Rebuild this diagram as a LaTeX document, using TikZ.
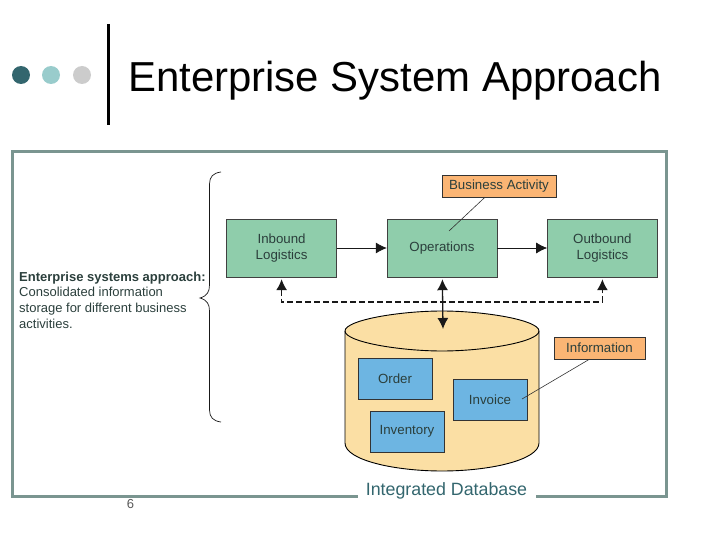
\documentclass[tikz,border=0pt]{standalone}
\usepackage{fontspec}
\setmainfont{Liberation Sans}
\usetikzlibrary{matrix,arrows.meta}

\definecolor{frameC}{HTML}{7A9590}
\definecolor{logiC}{HTML}{8FCDAB}
\definecolor{tagC}{HTML}{FBB574}
\definecolor{dbC}{HTML}{FBDFA4}
\definecolor{tblC}{HTML}{6DB5E2}
\definecolor{inkC}{HTML}{2B3F3C}
\definecolor{tealC}{HTML}{33666E}
\definecolor{paleC}{HTML}{99CCCC}

\begin{document}
\begin{tikzpicture}[x=1pt,y=-1pt,
	logi/.style={draw=black!75,fill=logiC,minimum width=110pt,minimum height=58pt,inner sep=0pt,align=center,font=\fontsize{13.3}{16}\selectfont,text=inkC},
	tag/.style={draw=black!80,fill=tagC,minimum height=22pt,inner sep=0pt,font=\fontsize{13.3}{14}\selectfont,text=inkC},
	tbl/.style={draw=black!80,line width=.8pt,fill=tblC,minimum width=74pt,minimum height=41pt,inner sep=0pt,font=\fontsize{13.3}{14}\selectfont,text=inkC},
	tip/.style={-{Latex[length=11pt,width=11pt]}},
	both/.style={{Latex[length=11pt,width=11pt]}-{Latex[length=11pt,width=11pt]}}]
	\useasboundingbox (0,0) rectangle (720,540);
	% header
	\fill[fill=tealC] (21,75) circle (9);
	\fill[fill=paleC] (51,75) circle (9);
	\fill[fill=black!20] (82,75) circle (9);
	\draw[line width=3pt] (108,24) -- (108,125);
	\node[anchor=west,inner sep=0pt,font=\fontsize{41.9}{44}\selectfont] (title) at (128,81) {Enterprise System Approach};
	% frame
	\draw[frameC,line width=3pt] (12.5,152) rectangle (666.5,496);
	% brace
	\draw[black!90,line width=.7pt] (221,172) .. controls (213,173) and (209.5,177) .. (209.5,184)
		-- (209.5,285) .. controls (209.5,292) and (207,296) .. (200,298)
		.. controls (207,300) and (209.5,304) .. (209.5,311)
		-- (209.5,410) .. controls (209.5,417) and (213,421) .. (221,422);
	\node[anchor=north west,inner sep=0pt,align=left,text=inkC,font=\fontsize{13}{15.8}\selectfont] (note) at (19,271.5)
		{\textbf{Enterprise systems approach:}\\Consolidated information\\storage for different business\\activities.};
	% database
	\draw[black,line width=.9pt,fill=dbC] (345,331) .. controls (345,320) and (400,311) .. (442,311)
		.. controls (484,311) and (539,320) .. (539,331) -- (539,443)
		.. controls (539,460) and (490,471) .. (442,471)
		.. controls (394,471) and (345,460) .. (345,443) -- cycle;
	\draw[black,line width=.9pt] (345,331) .. controls (345,342) and (400,351) .. (442,351)
		.. controls (484,351) and (539,342) .. (539,331);
	\coordinate (dbTop) at (443,329);
	\node[tbl] (order) at (395,378.5) {Order};
	\node[tbl] (invoice) at (490,399.5) {Invoice};
	\node[tbl] (inventory) at (407,431.5) {Inventory};
	\node[fill=white,inner sep=0pt,minimum width=178pt,minimum height=24pt,text=tealC,font=\fontsize{17.8}{20}\selectfont] (dbName) at (446.5,491) {Integrated Database};
	\node[text=black!65,inner sep=0pt,font=\fontsize{13}{14}\selectfont] (page) at (130.5,504) {6};
	% value chain
	\matrix(m)[column sep=50pt] at (442,248)
	{ \node[logi] (inbound) {Inbound\\Logistics}; & \node[logi] (ops) {Operations}; & \node[logi] (outbound) {Outbound\\Logistics}; \\};
	\node[tag,minimum width=114pt] (biz) at (499,186) {Business Activity};
	\node[tag,minimum width=91pt] (info) at (599.5,348) {Information};
	\coordinate (bizEnd) at (449,231);
	\coordinate (infoEnd) at (522,399);
	\coordinate (bus) at (443,302);
	\path[tip,black!90,line width=.7pt]
	(inbound) edge (ops)
	(ops) edge (outbound);
	\draw[black!80,line width=.6pt] (biz.south) ++(-14,0) -- (bizEnd);
	\draw[black!80,line width=.6pt] (info.south) ++(-10,0) -- (infoEnd);
	\path[both,black!90,line width=1.3pt,shorten <=2pt]
	(ops) edge (dbTop);
	\draw[both,black!90,line width=1.3pt,dash pattern=on 6pt off 3pt,shorten <=2pt,shorten >=2pt]
	(inbound.south) |- (bus) -| (outbound.south);
\end{tikzpicture}
\end{document}
